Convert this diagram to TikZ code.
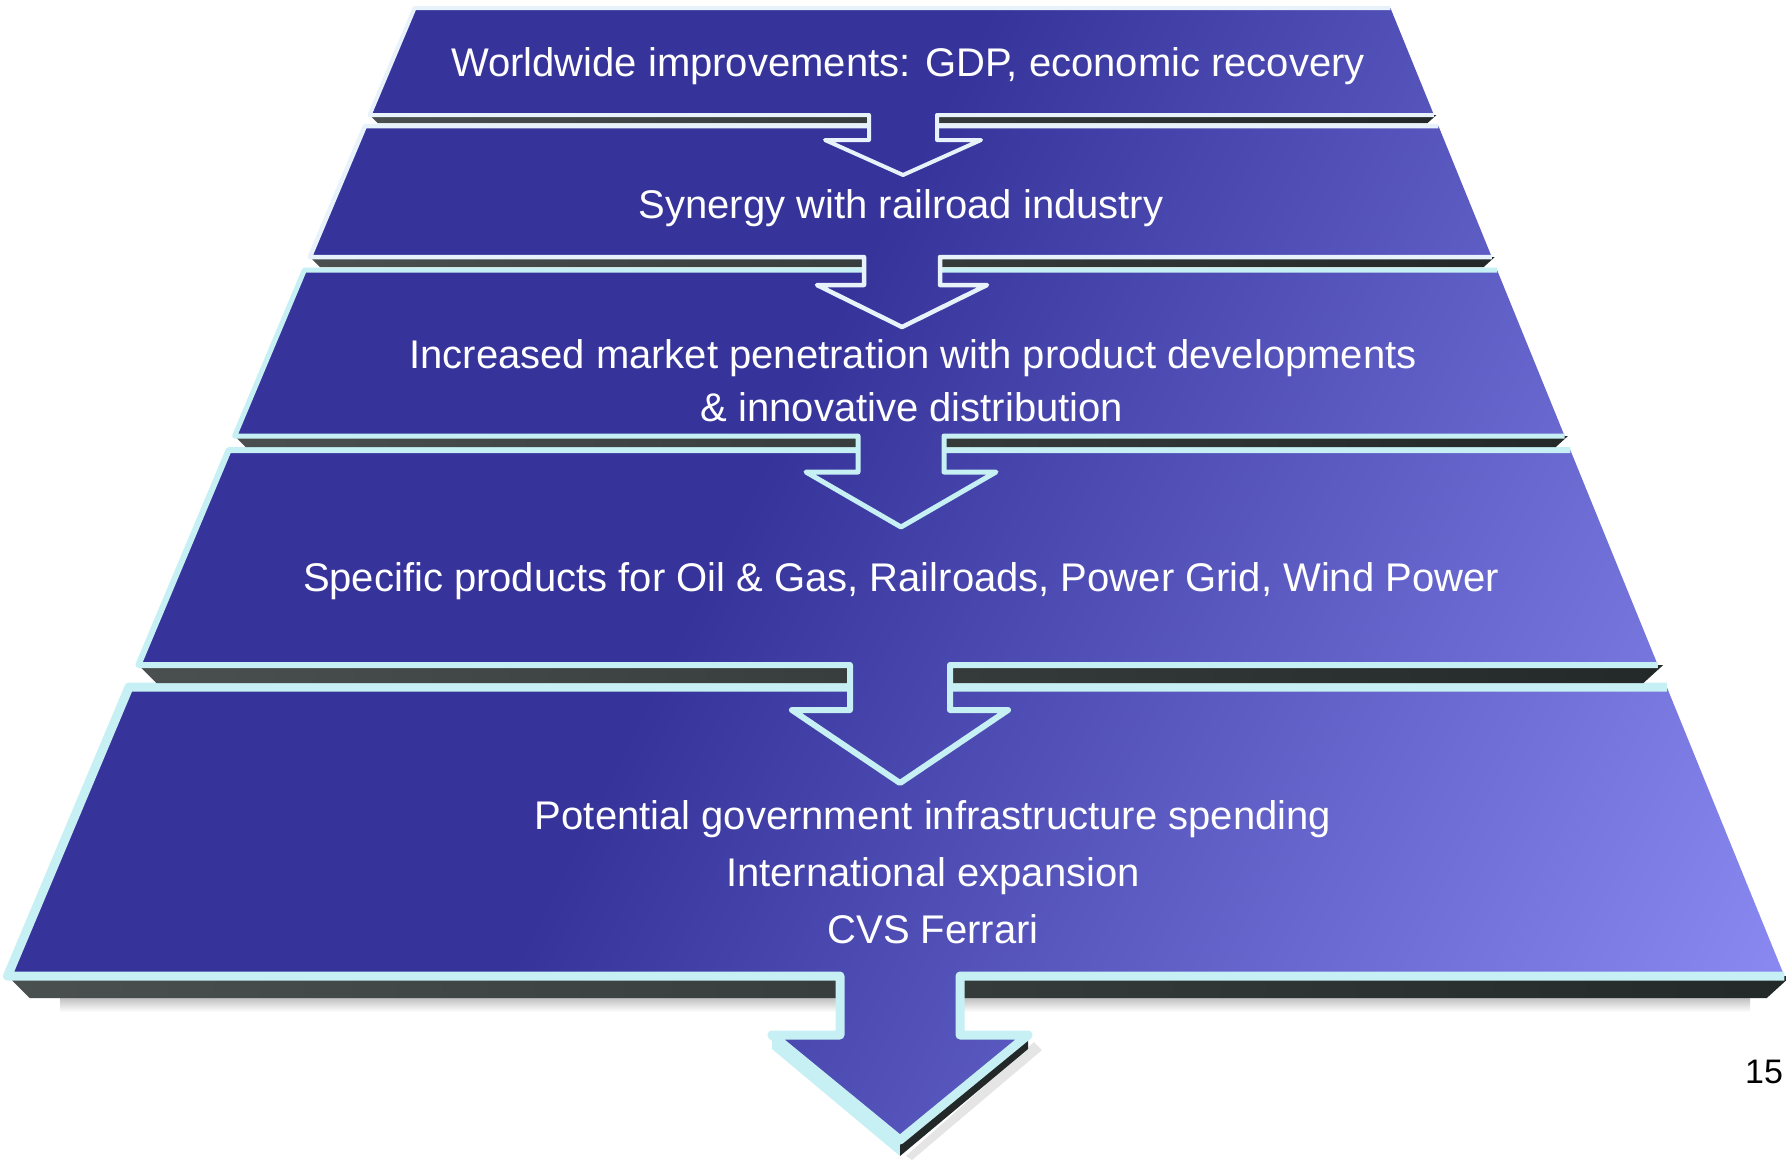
\documentclass[tikz,border=0pt]{standalone}
\usepackage{fontspec}
\setmainfont{Liberation Sans}
\usetikzlibrary{calc}
\definecolor{slabdark}{HTML}{36349B}
\definecolor{slablight}{HTML}{8888F0}
\definecolor{edgecyan}{HTML}{C6F0F4}
\definecolor{edgewhite}{HTML}{E8F2FA}
\definecolor{banddark}{HTML}{232828}
\definecolor{bandgrey}{HTML}{4A4F4F}
% the path's bounding box is mapped onto 25bp..75bp of this shading
\pgfdeclarehorizontalshading{slabshade}{100bp}{color(0bp)=(slabdark); color(46.5bp)=(slabdark); color(71bp)=(slablight); color(100bp)=(slablight)}

\newcommand{\XL}[1]{415-0.4205*(#1-7)}
\newcommand{\XR}[1]{1390+0.407*(#1-7)}
% open outline (no right edge): top, bot, shaft half width, wing y, wing half width, tip y, centre x
\newcommand{\faceline}[7]{({\XR{#2}},-#2) -- ({#7+#3},-#2) -- ({#7+#3},-#4) -- ({#7+#5},-#4) -- (#7,-#6) -- ({#7-#5},-#4) -- ({#7-#3},-#4) -- ({#7-#3},-#2) -- ({\XL{#2}},-#2) -- ({\XL{#1}},-#1) -- ({\XR{#1}},-#1)}
\newcommand{\slabface}[9]{%
  \begin{scope}
    \clip \faceline{#3}{#4}{#5}{#6}{#7}{#8}{#9} -- cycle;
    \begin{scope}[transform canvas={rotate=-26.565}]
      \shade[shading=slabshade] (-100,-1200) rectangle (2200,900);
    \end{scope}
  \end{scope}
  \draw[#1, line width=#2, line join=round] \faceline{#3}{#4}{#5}{#6}{#7}{#8}{#9};
}
\newcommand{\slabband}[2]{%
  \shade[left color=bandgrey, right color=banddark] ({\XL{#1}},-#1) -- ({\XR{#1}+0.3*(#2-#1)},-#1) -- ({\XR{#1}-0.8*(#2-#1)},-#2) -- ({\XL{#1}+1.0*(#2-#1)},-#2) -- cycle;
}

\begin{document}
\begin{tikzpicture}[x=1pt,y=1pt,
  txt/.style={text=white, font=\fontsize{40}{48}\selectfont, anchor=base, inner sep=0pt}]
\useasboundingbox (0,0) rectangle (1786,-1160);
\fill[white] (0,0) rectangle (1786,-1160);

% bottom slab, its shadow and the outgoing arrow
\shade[top color=black!28, bottom color=white] (60,-996) rectangle (1750,-1012);
\fill[black!10] (1034,-1042) -- (906,-1156) -- (912,-1160) -- (1042,-1050) -- cycle;
\fill[edgecyan] (772,-1035) -- (900,-1140) -- (900,-1156) -- (772,-1049) -- cycle;
\fill[banddark] (1028,-1035) -- (900,-1140) -- (900,-1156) -- (1028,-1049) -- cycle;
\slabband{976}{998}
\slabface{edgecyan}{9pt}{687}{976}{60}{1035}{128}{1140}{900}

% slab 4
\slabband{665}{683}
\slabface{edgecyan}{6pt}{450}{665}{50}{710}{108}{783}{900}

% slab 3
\slabband{436}{447}
\slabface{edgecyan}{5pt}{270}{436}{43}{472}{95}{527}{901}

% slab 2
\slabband{257}{267}
\slabface{edgewhite}{4.5pt}{126}{257}{38}{285}{85}{327}{902}

% slab 1
\slabband{115}{123}
\slabface{edgewhite}{4pt}{8}{115}{34}{140}{78}{175}{903}

% texts
\node[txt] (t1) at (908,-76) {Worldwide improvements: GDP, economic recovery};
\node[txt] (t2) at (901,-218) {Synergy with railroad industry};
\node[txt] (t3a) at (913,-368) {Increased market penetration with product developments};
\node[txt] (t3b) at (912,-421) {\& innovative distribution};
\node[txt] (t4) at (901,-591) {Specific products for Oil \& Gas, Railroads, Power Grid, Wind Power};
\node[txt] (t5a) at (933,-829) {Potential government infrastructure spending};
\node[txt] (t5b) at (933,-886) {International expansion};
\node[txt] (t5c) at (933,-943) {CVS Ferrari};
\node[anchor=base, inner sep=0pt, font=\fontsize{34}{40}\selectfont] (pg) at (1764,-1083) {15};
\end{tikzpicture}
\end{document}
